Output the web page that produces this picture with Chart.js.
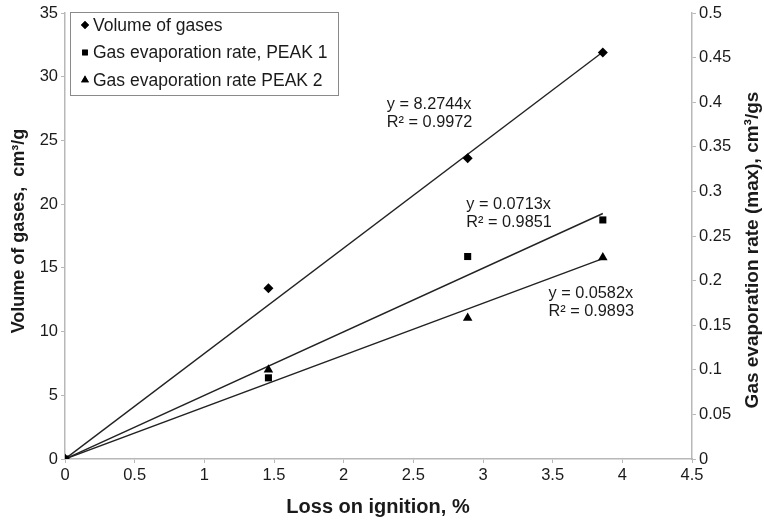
<!DOCTYPE html>
<html>
<head>
<meta charset="utf-8">
<script src="https://cdn.jsdelivr.net/npm/chart.js@4/dist/chart.umd.min.js"></script>
<style>
  html, body { margin: 0; padding: 0; background: #fff; }
  #wrap { width: 764px; height: 522px; }
</style>
</head>
<body>
<div id="wrap"><canvas id="chart" width="764" height="522"></canvas></div>
<script>
'use strict';

// loss on ignition, %
const lossX = [0, 1.46, 2.89, 3.86];
// volume of gases, cm3/g
const volumeGases = [0, 13.4, 23.6, 31.9];
// gas evaporation rate (max), cm3/gs
const ratePeak1 = [0, 0.091, 0.227, 0.268];
const ratePeak2 = [0, 0.1, 0.158, 0.226];

const seriesLabels = ['Volume of gases', 'Gas evaporation rate, PEAK 1', 'Gas evaporation rate PEAK 2'];
const trendSlopes = [8.2744, 0.0713, 0.0582];
const trendR2 = ['0.9972', '0.9851', '0.9893'];

const xTicks = [0, 0.5, 1, 1.5, 2, 2.5, 3, 3.5, 4, 4.5];

const FONT = 'Liberation Sans, Arial, sans-serif';
const INK = '#1a1a1a';
const AXIS = '#b8b8b8';

function pts(xs, ys) {
    return xs.map((x, i) => ({x: x, y: ys[i]}));
}

function trend(slope) {
    const xEnd = lossX[lossX.length - 1];
    return [{x: 0, y: 0}, {x: xEnd, y: slope * xEnd}];
}

const shapes = ['rectRot', 'rect', 'triangle'];
const radii = [5, 5, 5.5];
const values = [volumeGases, ratePeak1, ratePeak2];
const axes = ['y', 'y2', 'y2'];

const datasets = [];
values.forEach((v, i) => {
    datasets.push({
        type: 'scatter',
        label: seriesLabels[i],
        data: pts(lossX, v),
        yAxisID: axes[i],
        pointStyle: shapes[i],
        pointRadius: radii[i],
        pointBackgroundColor: '#000',
        pointBorderColor: '#000',
        pointBorderWidth: 0,
        showLine: false,
        order: 1
    });
});
trendSlopes.forEach((s, i) => {
    datasets.push({
        type: 'line',
        label: 'trend ' + (i + 1),
        data: trend(s),
        yAxisID: axes[i],
        borderColor: '#222',
        borderWidth: 1.4,
        pointRadius: 0,
        fill: false,
        order: 2
    });
});

// equation labels, anchored in data units of x / left y axis
const eqPos = [[2.31, 27.85], [2.88, 19.95], [3.47, 13.0]];

const extrasPlugin = {
    id: 'extras',
    afterDraw(chart) {
        const ctx = chart.ctx;
        const xs = chart.scales.x, ys = chart.scales.y;
        ctx.save();
        ctx.fillStyle = INK;
        ctx.font = '16.3px ' + FONT;
        ctx.textAlign = 'left';
        ctx.textBaseline = 'middle';
        eqPos.forEach((p, i) => {
            const px = xs.getPixelForValue(p[0]);
            const py = ys.getPixelForValue(p[1]);
            ctx.fillText('y = ' + trendSlopes[i] + 'x', px, py);
            ctx.fillText('R\u00b2 = ' + trendR2[i], px, py + 18);
        });

        // legend box
        const lx = 70, ly = 12, lw = 268, lh = 83;
        ctx.fillStyle = '#fff';
        ctx.fillRect(lx, ly, lw, lh);
        ctx.strokeStyle = '#8a8a8a';
        ctx.lineWidth = 1;
        ctx.strokeRect(lx + 0.5, ly + 0.5, lw, lh);
        seriesLabels.forEach((lab, i) => {
            const cy = ly + 13 + i * 27.5;
            ctx.fillStyle = '#000';
            ctx.strokeStyle = '#000';
            Chart.helpers.drawPoint(ctx, {pointStyle: shapes[i], radius: radii[i] - 1, borderWidth: 0}, lx + 15, cy);
            ctx.fill();
            ctx.fillStyle = INK;
            ctx.font = '17.5px ' + FONT;
            ctx.fillText(lab, lx + 23, cy + 1);
        });

        // axis titles, both reading bottom-to-top
        ctx.textAlign = 'center';
        ctx.fillStyle = INK;
        ctx.font = 'bold 18px ' + FONT;
        ctx.translate(19, 231);
        ctx.rotate(-Math.PI / 2);
        ctx.fillText('Volume of gases,  cm\u00b3/g', 0, 0);
        ctx.setTransform(1, 0, 0, 1, 0, 0);
        ctx.font = 'bold 19px ' + FONT;
        ctx.translate(753, 250);
        ctx.rotate(-Math.PI / 2);
        ctx.fillText('Gas evaporation rate (max), cm\u00b3/gs', 0, 0);
        ctx.setTransform(1, 0, 0, 1, 0, 0);
        ctx.font = 'bold 20px ' + FONT;
        ctx.fillText('Loss on ignition, %', 378, 507);
        ctx.restore();
    }
};

const tickFont = {family: FONT, size: 16.5};
const gridOpts = {drawOnChartArea: false, drawTicks: true, tickLength: 4, color: AXIS};

new Chart(document.getElementById('chart'), {
    data: {datasets: datasets},
    options: {
        responsive: false,
        animation: false,
        layout: {padding: {top: 13, left: 0, right: 0, bottom: 0}},
        plugins: {legend: {display: false}, tooltip: {enabled: false}},
        scales: {
            x: {
                type: 'linear',
                min: 0, max: 4.5,
                afterBuildTicks: s => { s.ticks = xTicks.map(v => ({value: v})); },
                ticks: {font: tickFont, color: INK, padding: 3, maxRotation: 0,
                    callback: v => String(v)},
                grid: gridOpts,
                border: {color: AXIS, width: 1.5},
                afterFit: s => { s.height = 63; }
            },
            y: {
                position: 'left',
                min: 0, max: 35,
                ticks: {font: tickFont, color: INK, stepSize: 5, padding: 3},
                grid: gridOpts,
                border: {color: AXIS, width: 1.5},
                afterFit: s => { s.width = 65; }
            },
            y2: {
                position: 'right',
                min: 0, max: 0.5,
                ticks: {font: tickFont, color: INK, stepSize: 0.05, padding: 3,
                    callback: v => String(+v.toFixed(2))},
                grid: gridOpts,
                border: {color: AXIS, width: 1.5},
                afterFit: s => { s.width = 72; }
            }
        }
    },
    plugins: [extrasPlugin]
});
</script>
</body>
</html>
